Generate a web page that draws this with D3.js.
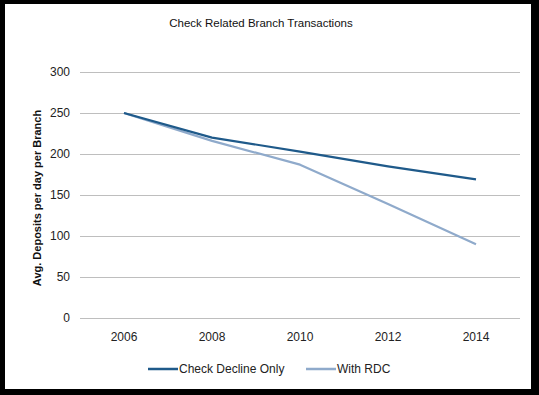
<!DOCTYPE html>
<html>
<head>
<meta charset="utf-8">
<script src="https://cdn.jsdelivr.net/npm/d3@7"></script>
<style>
  body { margin: 0; background: #000; }
  svg { display: block; font-family: "Liberation Sans", Arial, sans-serif; }
</style>
</head>
<body>
<svg></svg>
<script>
'use strict';

// chart values
var years = ['2006', '2008', '2010', '2012', '2014'];
var checkDeclineOnly = [250, 220, 203, 185, 169];
var withRDC = [250, 216, 187, 139, 90];
var yTicks = [0, 50, 100, 150, 200, 250, 300];
var seriesNames = ['Check Decline Only', 'With RDC'];
var seriesColors = ['#1F5A8A', '#8FAACB'];

var SVG_SIZE = {width: 539, height: 395};
var svg = d3.select('svg')
  .attr('width', SVG_SIZE.width).attr('height', SVG_SIZE.height);

// black frame, white chart area inside
svg.append('rect')
  .attr('width', SVG_SIZE.width).attr('height', SVG_SIZE.height)
  .attr('fill', '#000');
svg.append('rect')
  .attr('x', 5).attr('y', 4)
  .attr('width', 526).attr('height', 385)
  .attr('fill', '#fff');

var plot = {left: 80, right: 520, top: 72, bottom: 318};

var xScale = d3.scaleBand()
  .domain(years)
  .range([plot.left, plot.right]);

var yScale = d3.scaleLinear()
  .domain([0, 300])
  .range([plot.bottom, plot.top]);

// gridlines
svg.append('g').selectAll('line')
  .data(yTicks).enter().append('line')
  .attr('x1', plot.left).attr('x2', plot.right)
  .attr('y1', function(d){return yScale(d)})
  .attr('y2', function(d){return yScale(d)})
  .attr('stroke', '#BEBEBE').attr('stroke-width', 1)
  .attr('shape-rendering', 'crispEdges');

// y axis labels
var yAxis = d3.axisLeft(yScale).tickValues(yTicks).tickSize(0).tickPadding(10);
var yG = svg.append('g')
  .attr('transform', 'translate(' + plot.left + ',0)')
  .call(yAxis);
yG.select('.domain').remove();
yG.selectAll('text').attr('font-size', 12).attr('fill', '#222')
  .attr('font-family', '"Liberation Sans", Arial, sans-serif');

// x axis labels
var xAxis = d3.axisBottom(xScale).tickSize(0).tickPadding(14);
var xG = svg.append('g')
  .attr('transform', 'translate(0,' + plot.bottom + ')')
  .call(xAxis);
xG.select('.domain').remove();
xG.selectAll('text').attr('font-size', 12).attr('fill', '#222')
  .attr('font-family', '"Liberation Sans", Arial, sans-serif');

// lines
var line = d3.line()
  .x(function(d, i){return xScale(years[i]) + xScale.bandwidth() / 2})
  .y(function(d){return yScale(d)});

[withRDC, checkDeclineOnly].forEach(function(values, k) {
  svg.append('path')
    .attr('d', line(values))
    .attr('fill', 'none')
    .attr('stroke', seriesColors[1 - k])
    .attr('stroke-width', 2.2)
    .attr('stroke-linejoin', 'round');
});

// title
svg.append('text')
  .text('Check Related Branch Transactions')
  .attr('x', 261).attr('y', 27)
  .attr('text-anchor', 'middle')
  .attr('font-size', 11.5)
  .attr('fill', '#111');

// y axis title
svg.append('text')
  .text('Avg. Deposits per day per Branch')
  .attr('transform', 'translate(41,198) rotate(-90)')
  .attr('text-anchor', 'middle')
  .attr('font-size', 11)
  .attr('font-weight', 'bold')
  .attr('fill', '#111');

// legend
var legendX = [148, 306];
seriesNames.forEach(function(name, i) {
  var g = svg.append('g').attr('transform', 'translate(' + legendX[i] + ',369)');
  g.append('line')
    .attr('x1', 0).attr('x2', 30)
    .attr('stroke', seriesColors[i]).attr('stroke-width', 2.5);
  g.append('text')
    .text(name)
    .attr('x', 31).attr('y', 4)
    .attr('font-size', 12)
    .attr('fill', '#222');
});
</script>
</body>
</html>
